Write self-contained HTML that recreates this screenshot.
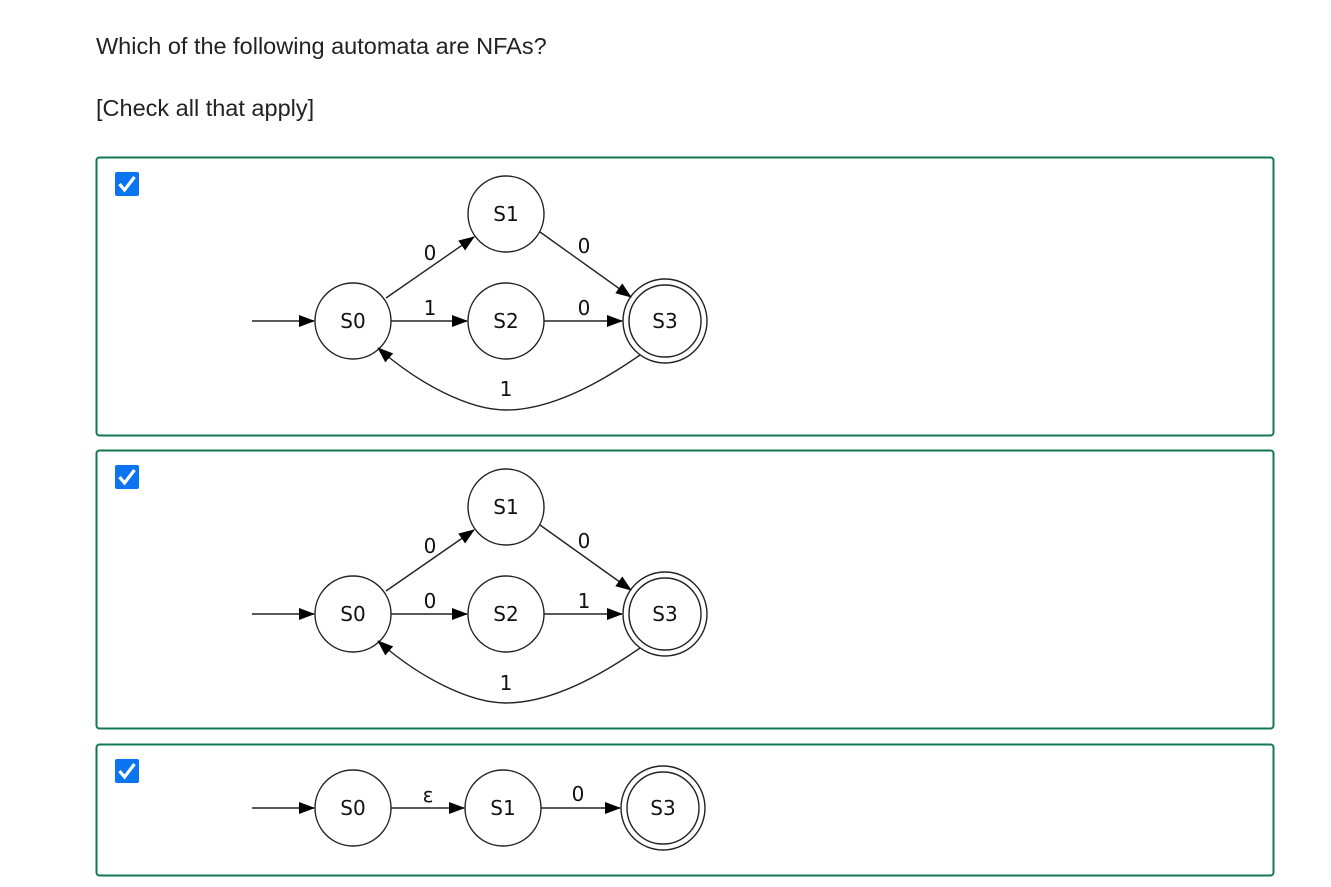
<!DOCTYPE html>
<html><head><meta charset="utf-8"><style>
html,body{margin:0;padding:0;background:#fff;width:1331px;height:887px;overflow:hidden}
svg{display:block}
</style></head><body>
<svg width="1331" height="887" viewBox="0 0 1331 887" xmlns="http://www.w3.org/2000/svg">
<defs>
<marker id="a" markerWidth="16" markerHeight="12" refX="15" refY="6" orient="auto" markerUnits="userSpaceOnUse">
<path d="M0,0 L16,6 L0,12 Z" fill="#000"/></marker>
</defs>
<g font-family="Liberation Sans, sans-serif" fill="#222" font-size="23.5">
<text x="96" y="54">Which of the following automata are NFAs?</text>
<text x="96" y="116">[Check all that apply]</text>
</g>
<g fill="none" stroke="#107a4e" stroke-width="2">
<rect x="96.5" y="157.5" width="1177" height="278" rx="3"/>
<rect x="96.5" y="450.5" width="1177" height="278" rx="3"/>
<rect x="96.5" y="744.5" width="1177" height="131" rx="3"/>
</g>
<g>
<rect x="115" y="172" width="24" height="24" rx="2" fill="#0b74f0"/>
<path d="M119.5,184 l5,6 l10,-13" stroke="#fff" stroke-width="3.2" fill="none"/>
<rect x="115" y="465" width="24" height="24" rx="2" fill="#0b74f0"/>
<path d="M119.5,477 l5,6 l10,-13" stroke="#fff" stroke-width="3.2" fill="none"/>
<rect x="115" y="759" width="24" height="24" rx="2" fill="#0b74f0"/>
<path d="M119.5,771 l5,6 l10,-13" stroke="#fff" stroke-width="3.2" fill="none"/>
</g>

<!-- Graph 1 -->
<g stroke="#222" stroke-width="1.4" fill="none">
<circle cx="353" cy="321" r="38"/>
<circle cx="506" cy="214" r="38"/>
<circle cx="506" cy="321" r="38"/>
<circle cx="665" cy="321" r="42"/>
<circle cx="665" cy="321" r="36"/>
<line x1="252" y1="321" x2="314" y2="321" marker-end="url(#a)"/>
<line x1="386" y1="298" x2="474" y2="237" marker-end="url(#a)"/>
<line x1="391" y1="321" x2="467" y2="321" marker-end="url(#a)"/>
<line x1="544" y1="321" x2="622" y2="321" marker-end="url(#a)"/>
<line x1="540" y1="232" x2="631" y2="297" marker-end="url(#a)"/>
<path d="M640,355 C590,390 545,410 506,410 C470,410 420,385 378,348" marker-end="url(#a)"/>
</g>
<g font-family="DejaVu Sans, sans-serif" font-size="20" fill="#111" text-anchor="middle">
<text x="353" y="328">S0</text><text x="506" y="221">S1</text><text x="506" y="328">S2</text><text x="665" y="328">S3</text>
<text x="430" y="260">0</text><text x="430" y="315">1</text><text x="584" y="315">0</text><text x="584" y="253">0</text><text x="506" y="396">1</text>
</g>

<!-- Graph 2 -->
<g stroke="#222" stroke-width="1.4" fill="none">
<circle cx="353" cy="614" r="38"/>
<circle cx="506" cy="507" r="38"/>
<circle cx="506" cy="614" r="38"/>
<circle cx="665" cy="614" r="42"/>
<circle cx="665" cy="614" r="36"/>
<line x1="252" y1="614" x2="314" y2="614" marker-end="url(#a)"/>
<line x1="386" y1="591" x2="474" y2="530" marker-end="url(#a)"/>
<line x1="391" y1="614" x2="467" y2="614" marker-end="url(#a)"/>
<line x1="544" y1="614" x2="622" y2="614" marker-end="url(#a)"/>
<line x1="540" y1="525" x2="631" y2="590" marker-end="url(#a)"/>
<path d="M640,648 C590,683 545,703 506,703 C470,703 420,678 378,641" marker-end="url(#a)"/>
</g>
<g font-family="DejaVu Sans, sans-serif" font-size="20" fill="#111" text-anchor="middle">
<text x="353" y="621">S0</text><text x="506" y="514">S1</text><text x="506" y="621">S2</text><text x="665" y="621">S3</text>
<text x="430" y="553">0</text><text x="430" y="608">0</text><text x="584" y="608">1</text><text x="584" y="548">0</text><text x="506" y="690">1</text>
</g>

<!-- Graph 3 -->
<g stroke="#222" stroke-width="1.4" fill="none">
<circle cx="353" cy="808" r="38"/>
<circle cx="503" cy="808" r="38"/>
<circle cx="663" cy="808" r="42"/>
<circle cx="663" cy="808" r="36"/>
<line x1="252" y1="808" x2="314" y2="808" marker-end="url(#a)"/>
<line x1="391" y1="808" x2="464" y2="808" marker-end="url(#a)"/>
<line x1="541" y1="808" x2="620" y2="808" marker-end="url(#a)"/>
</g>
<g font-family="DejaVu Sans, sans-serif" font-size="20" fill="#111" text-anchor="middle">
<text x="353" y="815">S0</text><text x="503" y="815">S1</text><text x="663" y="815">S3</text>
<text x="428" y="802">ε</text><text x="578" y="801">0</text>
</g>
</svg>
</body></html>
